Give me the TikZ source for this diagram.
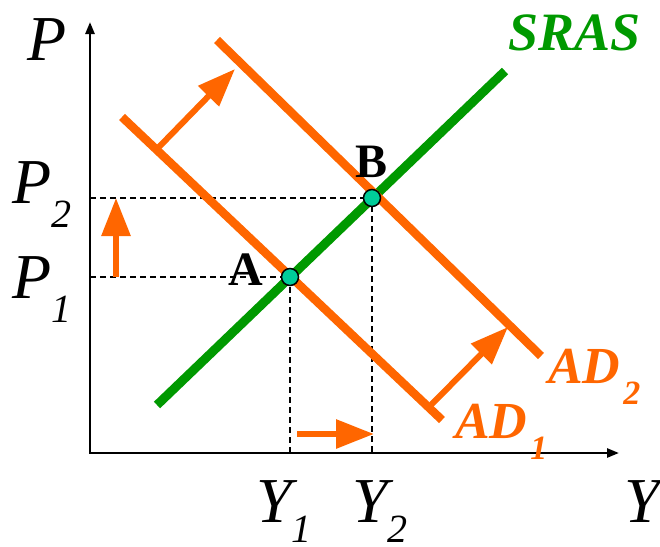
\documentclass[tikz,border=0pt]{standalone}
\usepackage{fontspec}
\setmainfont{Liberation Serif}
\usetikzlibrary{arrows.meta,calc}
\definecolor{adorange}{HTML}{FF6600}
\definecolor{srasgreen}{HTML}{009900}
\definecolor{pointteal}{HTML}{00CC99}
\newcommand\axsub[2][24pt]{\raisebox{-#1}{\fontsize{40}{40}\selectfont #2}}
\newcommand\cvsub[1]{\kern3pt\raisebox{-21pt}{\fontsize{34}{34}\selectfont #1}}
\begin{document}
\begin{tikzpicture}[x=1pt,y=-1pt,
  axis/.style={line width=2.5pt},
  guide/.style={line width=1.6pt,dash pattern=on 6pt off 4pt},
  adline/.style={line width=8.5pt,adorange},
  srasline/.style={line width=9pt,srasgreen},
  shiftarrow/.style={line width=6pt,adorange,-{Triangle[length=38pt,width=28pt]}},
  eqpoint/.style={circle,draw=black,line width=1.5pt,fill=pointteal,minimum size=17pt,inner sep=0pt},
  axlabel/.style={inner sep=0pt,anchor=base west,font=\fontsize{64}{64}\selectfont\itshape},
  ptlabel/.style={inner sep=0pt,anchor=base west,font=\fontsize{48}{48}\selectfont\bfseries},
  curvelabel/.style={inner sep=0pt,anchor=base west,font=\fontsize{52}{52}\selectfont\bfseries\itshape},
]
\useasboundingbox (0,0) rectangle (660,546);

% axes
\coordinate (O) at (90,453);
\coordinate (Ytop) at (90,22);
\coordinate (Xend) at (619,453);
\draw[axis,{Triangle[length=12pt,width=9pt]}-{Triangle[length=12pt,width=9pt]}] (Ytop) -- (O) -- (Xend);

% equilibrium points (coordinates)
\coordinate (Apt) at (290,277);
\coordinate (Bpt) at (372,198);

% guides
\draw[guide] (O |- Apt) -- (Apt) -- (Apt |- O);
\draw[guide] (O |- Bpt) -- (Bpt) -- (Bpt |- O);

% curves
\coordinate (SRASs) at (157,405);
\coordinate (SRASe) at (505,71);
\coordinate (AD1s) at (122,117);
\coordinate (AD1e) at (442,420);
\coordinate (AD2s) at (217,40);
\coordinate (AD2e) at (541,356);
\draw[srasline] (SRASs) -- (SRASe);
\draw[adline] (AD1s) -- (AD1e);
\draw[adline] (AD2s) -- (AD2e);

% shift arrows
\coordinate (s1) at (157,149); \coordinate (t1) at (235,69);
\coordinate (s2) at (430,406); \coordinate (t2) at (508,327);
\coordinate (s3) at (116,277); \coordinate (t3) at (116,198);
\coordinate (s4) at (297,434); \coordinate (t4) at (374,434);
\draw[shiftarrow] (s1) -- (t1);
\draw[shiftarrow] (s2) -- (t2);
\draw[shiftarrow] (s3) -- (t3);
\draw[shiftarrow] (s4) -- (t4);

% points
\node[eqpoint] (A) at (Apt) {};
\node[eqpoint] (B) at (Bpt) {};

% labels
\node[axlabel] (Plab) at (27,60) {P};
\node[axlabel] (P2lab) at (12,203) {P\axsub{2}};
\node[axlabel] (P1lab) at (12,298) {P\axsub{1}};
\node[axlabel] (Y1lab) at (256,522) {Y\axsub[20pt]{1}};
\node[axlabel] (Y2lab) at (352,522) {Y\axsub[20pt]{2}};
\node[axlabel] (Ylab) at (624,522) {Y};
\node[ptlabel] (Alab) at (228,285) {A};
\node[ptlabel] (Blab) at (355,177) {B};
\node[curvelabel,srasgreen,font=\fontsize{54}{54}\selectfont\bfseries\itshape] (SRASlab) at (508,50) {SRAS};
\node[curvelabel,adorange] (AD2lab) at (548,383) {AD\cvsub{2}};
\node[curvelabel,adorange] (AD1lab) at (455,438) {AD\cvsub{1}};
\end{tikzpicture}
\end{document}
